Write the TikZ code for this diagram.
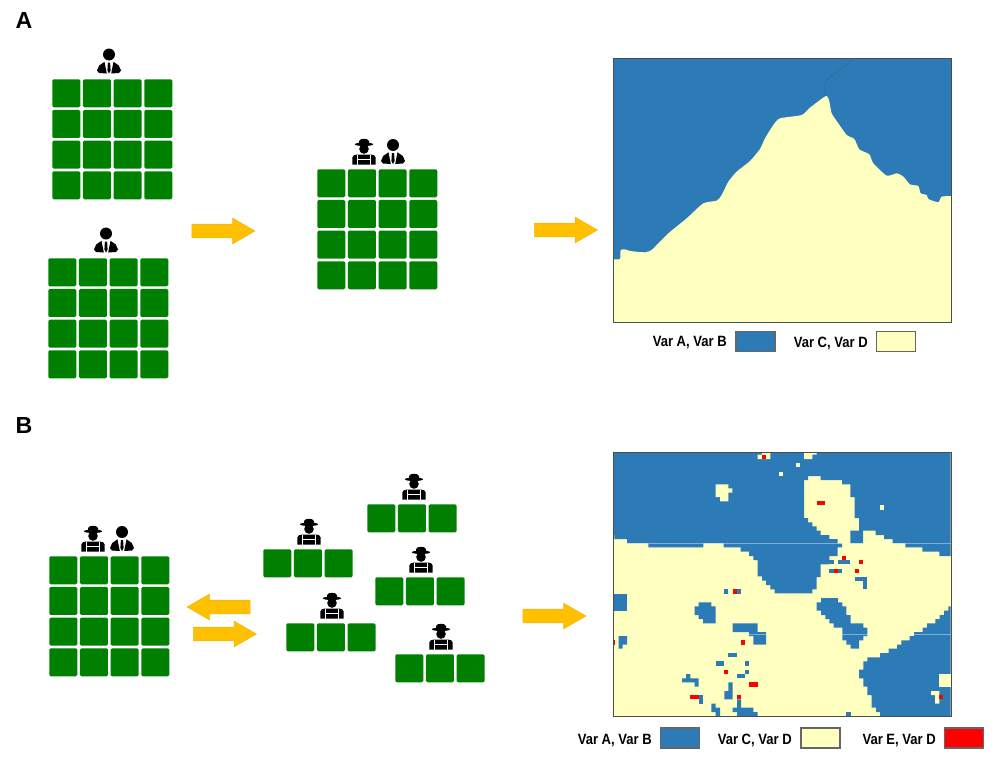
\documentclass[tikz,border=0pt]{standalone}
\usepackage{fontspec}
\setmainfont{Liberation Sans}
\usetikzlibrary{shapes.arrows}
\definecolor{varblue}{HTML}{2C7BB6}
\definecolor{varyellow}{HTML}{FFFFBF}
\definecolor{varred}{HTML}{FF0000}
\definecolor{plotgreen}{HTML}{008000}
\definecolor{flowfill}{HTML}{FFC000}
\definecolor{flowedge}{HTML}{F0B818}
\definecolor{swatchedge}{HTML}{666666}
\tikzset{
	plot/.style={fill=plotgreen,rounded corners=1pt,minimum size=0.7cm,inner sep=0pt,anchor=north west},
	flow/.style={single arrow,draw=flowedge,fill=flowfill,line width=0.4pt,minimum height=1.575cm,minimum width=0.625cm,single arrow head extend=0.15cm,single arrow tip angle=60,inner xsep=0pt,inner ysep=0.1625cm},
	swatch/.style={draw=swatchedge,line width=1.1pt,minimum width=0.98cm,minimum height=0.49cm,inner sep=0pt},
	varlabel/.style={font=\bfseries\fontsize{10.6}{12}\selectfont,inner sep=0pt,anchor=east,xscale=0.875,transform shape},
	panel/.style={font=\bfseries\fontsize{16.5}{18}\selectfont,inner sep=0pt},
	mapframe/.style={draw=black!70,line width=0.55pt},
	pics/suitman/.style={code={
		\fill circle[radius=6];
		\fill (-12,16) -- (-9.8,11) -- (-4.5,7.3) -- (-2.2,19) -- (-10,18.5) -- cycle;
		\fill (12,16) -- (9.8,11) -- (4.5,7.3) -- (2.2,19) -- (10,18.5) -- cycle;
		\fill (-1.1,8) -- (1.1,8) -- (1.6,16) -- (0,19) -- (-1.6,16) -- cycle;
	}},
	pics/farmer/.style={code={
		\fill circle[radius=4.8];
		\fill (-5,-4.7) -- (-5,-8) .. controls (-4.5,-11) and (4.5,-11) .. (5,-8) -- (5,-4.7) -- cycle;
		\fill (0,-4.7) circle[x radius=9.2,y radius=1.7];
		\fill (-11.7,15.5) -- (-11.7,8.5) .. controls (-11.7,6.5) and (-9,5.5) .. (-7,5.5) -- (7,5.5) .. controls (9,5.5) and (11.7,6.5) .. (11.7,8.5) -- (11.7,15.5) -- cycle;
		\draw[white,line width=0.4pt] (-6.5,5.5) -- (-6.5,15.5) (6.5,5.5) -- (6.5,15.5) (-6.5,10.5) -- (6.5,10.5);
	}}
}
\newcommand{\plotgrid}[5]{
	\foreach \i in {1,...,#4}
		\foreach \j in {1,...,#5}
			\node[plot] (#1-\j-\i) at ({#2+(\i-1)*30.67},{#3+(\j-1)*30.67}) {};
}
\begin{document}
\begin{tikzpicture}[x=0.025cm,y=-0.025cm]
	\useasboundingbox (0,0) rectangle (998,756);
	\node[panel] (panelA) at (24,21) {A};
	\node[panel] (panelB) at (24,426) {B};

	\plotgrid{topleft}{52}{79}{4}{4}
	\plotgrid{bottomleft}{48}{258}{4}{4}
	\plotgrid{merged}{317}{169}{4}{4}
	\plotgrid{whole}{49}{556}{4}{4}
	\plotgrid{farmone}{367}{504}{3}{1}
	\plotgrid{farmtwo}{263}{549}{3}{1}
	\plotgrid{farmthree}{375}{577}{3}{1}
	\plotgrid{farmfour}{286}{623}{3}{1}
	\plotgrid{farmfive}{395}{654}{3}{1}

	\pic (suitA) at (109,54.5) {suitman};
	\pic (suitB) at (106,233.5) {suitman};
	\pic (suitC) at (393,145) {suitman};
	\pic (suitD) at (122,532) {suitman};
	\pic (farmerA) at (364,149) {farmer};
	\pic (farmerB) at (93,536) {farmer};
	\pic (farmerC) at (414,484) {farmer};
	\pic (farmerD) at (309,529) {farmer};
	\pic (farmerE) at (421,557) {farmer};
	\pic (farmerF) at (332,603) {farmer};
	\pic (farmerG) at (441,634) {farmer};

	\node[flow] (flowA) at (217.5,231) {};
	\node[flow] (flowB) at (560,230) {};
	\node[flow,shape border rotate=180] (flowC) at (224.5,607) {};
	\node[flow] (flowD) at (219,634) {};
	\node[flow] (flowE) at (548.5,616) {};

	\begin{scope}
		\clip (613,58) rectangle (951,322);
		\fill[varblue] (613,58) rectangle (951,322);
		\fill[varyellow,shift={(610,55)},scale=1/3] plot[smooth,tension=0.35] coordinates {(5,612) (30,612) (32,585) (45,583) (60,588) (105,592) (125,585) (140,570) (175,535) (230,490) (280,445) (320,437) (335,420) (355,380) (380,350) (420,318) (450,282) (465,250) (490,210) (510,190) (575,180) (600,158) (648,123) (658,140) (665,175) (685,205) (710,240) (733,252) (748,283) (778,298) (790,325) (830,362) (860,355) (880,365) (900,388) (925,393) (932,415) (950,420) (955,432) (985,442) (995,425) (1030,423)} -- (1030,820) -- (5,820) -- cycle;
		\draw[varblue!88!black,line width=0.3pt,shift={(610,55)},scale=1/3] plot[smooth,tension=0.5] coordinates {(648,123) (642,100) (650,75) (690,45) (730,12)};
	\end{scope}
	\draw[mapframe] (613,58) rectangle (951,322);

	\begin{scope}
		\clip (613,452) rectangle (951,716);
		\fill[varyellow] (613,452) rectangle (951,716);
		\begin{scope}[shift={(610,450)},scale=1/3]
			\fill[varblue] plot coordinates {(10,6) (1022,6) (1022,318) (988,318) (988,305) (937,305) (937,292) (886,292) (886,280) (848,280) (848,267) (822,267) (822,255) (797,255) (797,242) (759,242) (759,280) (721,280) (721,242) (747,242) (747,204) (734,204) (734,141) (721,141) (721,103) (696,103) (696,90) (632,90) (632,78) (594,78) (594,90) (582,90) (582,204) (594,204) (594,217) (607,217) (607,229) (620,229) (620,242) (632,242) (632,255) (658,255) (658,267) (683,267) (683,280) (696,280) (696,292) (683,292) (683,318) (658,318) (658,343) (632,343) (632,381) (620,381) (620,418) (607,418) (607,430) (494,430) (494,418) (481,418) (481,405) (468,405) (468,392) (456,392) (456,379) (443,379) (443,330) (430,330) (430,318) (417,318) (417,305) (392,305) (392,292) (341,292) (341,280) (280,280) (280,292) (115,292) (115,280) (51,280) (51,267) (13,267) (13,255) (10,255)} -- cycle;
			\fill[varyellow] plot coordinates {(456,6) (481,6) (481,27) (443,27) (443,14) (456,14)} -- cycle;
			\fill[varyellow] plot coordinates {(582,6) (620,6) (620,14) (607,14) (607,27) (582,27)} -- cycle;
			\fill[varyellow] plot coordinates {(317,103) (355,103) (355,115) (367,115) (367,128) (355,128) (355,154) (330,154) (330,141) (317,141)} -- cycle;
			\foreach \xa/\ya/\xb/\yb in {557/40/570/52,507/65/519/78,810/166/823/179}
				\fill[varyellow] (\xa,\ya) rectangle (\xb,\yb);
			\foreach \xa/\ya/\xb/\yb in {658/330/671/343,683/330/721/343,658/356/696/368,734/381/772/393,759/393/772/418}
				\fill[varblue] (\xa,\ya) rectangle (\xb,\yb);
			\foreach \xa/\ya/\xb/\yb in {456/14/468/27,620/153/646/166,696/318/709/330,747/330/759/343,671/356/683/368,734/356/747/368}
				\fill[varred] (\xa,\ya) rectangle (\xb,\yb);
			\draw[white,opacity=0.4,line width=0.5pt] (13,280) -- (1022,280);
		\end{scope}
		\begin{scope}[shift={(610,580)},scale=1/3]
			\foreach \xa/\ya/\xb/\yb in {343/28/355/41,381/28/393/41,10/41/51/92,355/219/381/232,317/244/343/257,405/244/418/257,405/269/418/282,381/282/405/295,709/396/722/410}
				\fill[varblue] (\xa,\ya) rectangle (\xb,\yb);
			\fill[varblue] plot coordinates {(266,67) (304,67) (304,79) (317,79) (317,130) (279,130) (279,117) (266,117) (266,105) (254,105) (254,79) (266,79)} -- cycle;
			\fill[varblue] plot coordinates {(368,130) (443,130) (443,156) (468,156) (468,194) (430,194) (430,168) (417,168) (417,156) (368,156)} -- cycle;
			\fill[varblue] plot coordinates {(26,168) (51,168) (51,194) (38,194) (38,206) (26,206)} -- cycle;
			\fill[varblue] plot coordinates {(228,282) (241,282) (241,295) (266,295) (266,320) (254,320) (254,307) (216,307) (216,295) (228,295)} -- cycle;
			\fill[varblue] plot coordinates {(355,307) (368,307) (368,358) (343,358) (343,333) (355,333)} -- cycle;
			\fill[varblue] plot coordinates {(266,345) (279,345) (279,371) (266,371)} -- cycle;
			\fill[varblue] plot coordinates {(381,358) (393,358) (393,383) (430,383) (430,396) (443,396) (443,410) (381,410) (381,396) (368,396) (368,383) (381,383)} -- cycle;
			\fill[varblue] plot coordinates {(304,371) (317,371) (317,383) (330,383) (330,410) (317,410) (317,396) (304,396)} -- cycle;
			\fill[varblue] plot coordinates {(633,54) (684,54) (684,67) (697,67) (697,79) (709,79) (709,105) (722,105) (722,130) (760,130) (760,143) (772,143) (772,168) (760,168) (760,181) (747,181) (747,206) (722,206) (722,194) (709,194) (709,181) (697,181) (697,143) (671,143) (671,130) (658,130) (658,117) (646,117) (646,105) (633,105) (633,92) (620,92) (620,67) (633,67)} -- cycle;
			\fill[varblue] plot coordinates {(1022,79) (1015,79) (1015,92) (1002,92) (1002,105) (989,105) (989,117) (976,117) (976,130) (951,130) (951,143) (938,143) (938,156) (912,156) (912,168) (899,168) (899,181) (874,181) (874,194) (861,194) (861,206) (836,206) (836,219) (810,219) (810,232) (772,232) (772,244) (760,244) (760,269) (747,269) (747,295) (760,295) (760,320) (772,320) (772,345) (785,345) (785,383) (798,383) (798,396) (810,396) (810,410) (1022,410)} -- cycle;
			\fill[varyellow] (988,282) rectangle (1022,320);
			\fill[varyellow] plot coordinates {(963,333) (988,333) (988,371) (975,371) (975,345) (963,345)} -- cycle;
			\foreach \xa/\ya/\xb/\yb in {368/28/381/41,7/181/14/194,393/181/405/194,343/269/355/282,418/307/443/320,241/345/266/358,381/345/393/358,988/345/1000/358}
				\fill[varred] (\xa,\ya) rectangle (\xb,\yb);
			\draw[white,opacity=0.4,line width=0.5pt] (10,163) -- (1022,163);
		\end{scope}
	\end{scope}
	\draw[mapframe] (613,452) rectangle (951,716);

	\node[varlabel] (labelAB) at (727,343) {Var A, Var B};
	\node[swatch,fill=varblue] (swatchAB) at (755.5,341.5) {};
	\node[varlabel] (labelCD) at (868,343) {Var C, Var D};
	\node[swatch,fill=varyellow] (swatchCD) at (896,341.5) {};

	\node[varlabel] (labelABtwo) at (652,740.5) {Var A, Var B};
	\node[swatch,fill=varblue] (swatchABtwo) at (680,738) {};
	\node[varlabel] (labelCDtwo) at (792,740.5) {Var C, Var D};
	\node[swatch,fill=varyellow] (swatchCDtwo) at (820.5,738) {};
	\node[varlabel] (labelED) at (936,740.5) {Var E, Var D};
	\node[swatch,fill=varred] (swatchED) at (964,738) {};
\end{tikzpicture}
\end{document}
